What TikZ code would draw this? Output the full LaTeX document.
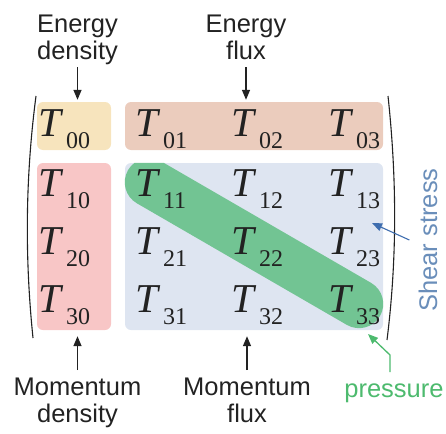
\documentclass[tikz,border=0pt]{standalone}
\usepackage{fontspec}
\setmainfont{Liberation Sans}
\newfontfamily\tensorfont{Liberation Serif}
\usetikzlibrary{arrows.meta,calc,positioning}
\definecolor{ink}{HTML}{222222}
\definecolor{densyellow}{HTML}{F7E4BD}
\definecolor{fluxsalmon}{HTML}{EBCCBD}
\definecolor{momred}{HTML}{F8C6C6}
\definecolor{stressblue}{HTML}{DEE5F1}
\definecolor{bandgreen}{HTML}{72C493}
\definecolor{presgreen}{HTML}{4DBA6E}
\definecolor{shearblue}{HTML}{6A8EBA}
\definecolor{arrowblue}{HTML}{3E6DAF}
\newcommand{\tcomp}[1]{T\kern5pt\raisebox{-12pt}{\fontsize{24}{24}\selectfont\upshape #1}}

\begin{document}
\begin{tikzpicture}[
  x=1pt,
  y=-1pt,
  >={Triangle[length=10pt,width=8pt]},
  cellbox/.style={
    rounded corners=6pt,
    inner sep=0pt
  },
  entry/.style={
    anchor=base west,
    inner sep=0pt,
    text=ink,
    font=\fontsize{41}{41}\tensorfont\itshape
  },
  tag/.style={
    align=center,
    inner sep=0pt,
    text=ink,
    font=\fontsize{25.5}{27}\selectfont
  },
  pointer/.style={->,ink,line width=1.4pt},
  paren/.style={ink,line width=1.1pt}
]
\useasboundingbox (0,0) rectangle (446,433);

% coloured blocks
\node[cellbox,fill=densyellow,minimum width=74pt,minimum height=48pt]
  (densbox) at (74,126) {};
\node[cellbox,fill=fluxsalmon,minimum width=258pt,minimum height=48pt]
  (fluxbox) at (254,126) {};
\node[cellbox,fill=momred,minimum width=74pt,minimum height=167pt]
  (mdensbox) at (74,246.5) {};
\node[cellbox,fill=stressblue,minimum width=258pt,minimum height=167pt]
  (stressbox) at (254,246.5) {};

% diagonal = pressure
\coordinate (bandstart) at (149,182.3);
\coordinate (bandend) at (359,303.9);
\begin{scope}
  \clip[rounded corners=6pt] (stressbox.north west) rectangle (stressbox.south east);
  \draw[bandgreen,line width=48.5pt,line cap=round] (bandstart) -- (bandend);
\end{scope}

% brackets
\draw[paren] (36,96) .. controls (25,180) and (25,260) .. (33,338);
\draw[paren] (388,96) .. controls (397,180) and (397,260) .. (387,340);

% components
\node[entry] (t00) at (38,136) {\tcomp{00}};
\node[entry] (t01) at (135,136) {\tcomp{01}};
\node[entry] (t02) at (231,136) {\tcomp{02}};
\node[entry] (t03) at (328,136) {\tcomp{03}};
\node[entry] (t10) at (38,196) {\tcomp{10}};
\node[entry] (t11) at (135,196) {\tcomp{11}};
\node[entry] (t12) at (231,196) {\tcomp{12}};
\node[entry] (t13) at (328,196) {\tcomp{13}};
\node[entry] (t20) at (38,254) {\tcomp{20}};
\node[entry] (t21) at (135,254) {\tcomp{21}};
\node[entry] (t22) at (231,254) {\tcomp{22}};
\node[entry] (t23) at (328,254) {\tcomp{23}};
\node[entry] (t30) at (38,312) {\tcomp{30}};
\node[entry] (t31) at (135,312) {\tcomp{31}};
\node[entry] (t32) at (231,312) {\tcomp{32}};
\node[entry] (t33) at (328,312) {\tcomp{33}};

% labels
\node[tag,anchor=north] (edens) at (77.5,15) {Energy\\density};
\node[tag,anchor=north] (eflux) at (246,15) {Energy\\flux};
\node[tag,anchor=north] (mdens) at (77.5,378) {Momentum\\density};
\node[tag,anchor=north] (mflux) at (247,378) {Momentum\\flux};
\node[tag,anchor=base,text=presgreen] (pres) at (394,397) {pressure};
\node[tag,rotate=90,anchor=base,inner ysep=9pt,text=shearblue]
  (shear) at (437,240) {Shear stress};

\draw[pointer,shorten <=2pt,shorten >=2pt]
  (edens.south) -- (edens.south |- densbox.north);
\draw[pointer,shorten <=7pt,shorten >=2pt]
  (eflux.south) -- (eflux.south |- fluxbox.north);
\draw[pointer,shorten <=8pt,shorten >=6pt]
  (mdens.north) -- (mdens.north |- mdensbox.south);
\draw[pointer,shorten <=8pt,shorten >=6pt]
  (mflux.north) -- (mflux.north |- stressbox.south);

\coordinate (pbend) at (390,355);
\coordinate (ptip) at (368,334);
\draw[->,presgreen,line width=1.3pt,shorten <=11pt]
  (pbend |- pres.north) -- (pbend) -- (ptip);

\coordinate (stip) at (372,223);
\draw[->,arrowblue,line width=1.1pt] (shear.north) -- (stip);

\end{tikzpicture}
\end{document}
